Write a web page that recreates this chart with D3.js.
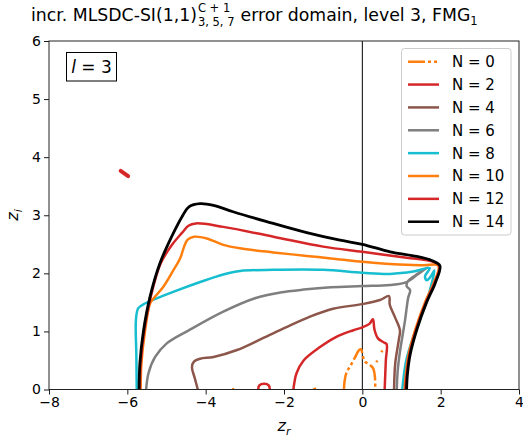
<!DOCTYPE html>
<html>
<head>
<meta charset="utf-8">
<script src="https://cdn.jsdelivr.net/npm/d3@7"></script>
<style>
  body { margin: 0; background: #fff; }
  svg { display: block; }
  text { font-family: "DejaVu Sans", sans-serif; fill: #000; white-space: pre; }
</style>
</head>
<body>
<script>
// Axis setup
const xTicks = [-8, -6, -4, -2, 0, 2, 4];
const yTicks = [0, 1, 2, 3, 4, 5, 6];

// Contour levels shown in the legend
const levels = [0, 2, 4, 6, 8, 10, 12, 14];

// Contour traces (z_r, z_i)
const curveN0 = [[-0.47,0],[-0.45,0.16],[-0.40,0.30],[-0.31,0.40],[-0.19,0.55],[-0.08,0.68],[-0.03,0.69],[0.01,0.58],[0.07,0.48],[0.2,0.42],[0.28,0.36],[0.32,0.22],[0.33,0]];
const bitsN0 = [[[0.36,0.47],[0.38,0.50]], [[0.49,0.64],[0.51,0.67]], [[-1.25,0],[-1.18,0.02]], [[-3.32,0],[-3.27,0.01]]];
const curveN2 = [[-1.76,0],[-1.68,0.28],[-1.5,0.5],[-1.08,0.73],[-0.65,0.91],[-0.23,1.02],[0,1.07],[0.18,1.13],[0.27,1.21],[0.31,1.03],[0.4,0.88],[0.55,0.81],[0.62,0.78],[0.6,0.5],[0.57,0]];
const loopN2 = [[-2.66,0],[-2.63,0.07],[-2.5,0.1],[-2.39,0.07],[-2.36,0]];
const islandN12 = [[-6.17,3.765],[-5.98,3.675]];
const curveN4 = [[-4.20,0],[-4.28,0.2],[-4.35,0.38],[-4.30,0.48],[-4.14,0.53],[-3.8,0.56],[-3.2,0.68],[-2.55,0.88],[-1.95,1.07],[-1.35,1.25],[-0.75,1.39],[0,1.47],[0.45,1.54],[0.68,1.61],[0.70,1.46],[0.83,1.25],[0.96,1.02],[0.93,0.85],[0.84,0.45],[0.81,0]];
const curveN6 = [[-5.52,0],[-5.46,0.28],[-5.29,0.56],[-5.0,0.79],[-4.4,1.03],[-3.55,1.34],[-2.70,1.58],[-2.1,1.67],[-1.5,1.72],[-0.8,1.76],[0,1.78],[0.71,1.8],[1.13,1.85],[1.39,1.97],[1.66,2.1],[1.30,1.94],[1.17,1.87],[1.13,1.78],[1.22,1.71],[1.17,1.58],[1.09,1.19],[0.96,0.65],[0.90,0.3],[0.88,0]];
const curveN8 = [[-5.76,0],[-5.77,0.6],[-5.78,1.2],[-5.72,1.4],[-5.55,1.48],[-5.42,1.52],[-4.83,1.68],[-4.14,1.85],[-3.55,1.98],[-3.12,2.04],[-2.27,2.06],[-1.0,2.06],[0,2.01],[0.71,1.99],[1.30,2.03],[1.72,2.09],[1.60,1.95],[1.64,1.88],[1.73,1.93],[1.84,2.05],[1.72,1.7],[1.52,1.3],[1.3,0.9],[1.12,0.5],[1.02,0]];
const curveN10 = [[-5.66,0],[-5.64,0.45],[-5.55,1.0],[-5.42,1.48],[-5.34,1.56],[-5.08,1.77],[-4.82,2.06],[-4.65,2.26],[-4.55,2.46],[-4.46,2.58],[-4.3,2.63],[-3.97,2.6],[-3.55,2.49],[-3.12,2.43],[-2.27,2.36],[-1.42,2.3],[-0.57,2.24],[0,2.2],[0.71,2.16],[1.56,2.14],[1.94,2.13],[1.82,1.83],[1.6,1.5],[1.36,1.05],[1.18,0.6],[1.11,0.25],[1.08,0]];
const curveN12 = [[-5.68,0],[-5.66,0.45],[-5.57,1.0],[-5.40,1.6],[-5.15,2.17],[-4.85,2.5],[-4.6,2.7],[-4.44,2.82],[-4.25,2.86],[-3.55,2.8],[-2.27,2.63],[-1.0,2.46],[0,2.37],[1.13,2.27],[1.81,2.2],[1.97,2.13],[1.84,1.83],[1.62,1.5],[1.38,1.05],[1.2,0.6],[1.13,0.25],[1.10,0]];
const curveN14 = [[-5.70,0],[-5.68,0.45],[-5.59,1.0],[-5.42,1.6],[-5.17,2.17],[-4.87,2.63],[-4.6,2.98],[-4.42,3.15],[-4.14,3.2],[-3.8,3.17],[-3.3,3.06],[-2.44,2.89],[-1.42,2.7],[-0.57,2.57],[0,2.5],[0.71,2.37],[1.39,2.29],[1.77,2.22],[1.98,2.13],[1.86,1.83],[1.64,1.5],[1.4,1.05],[1.22,0.6],[1.15,0.25],[1.13,0]];

const colors = {0: "#ff7f0e", 2: "#d62728", 4: "#8c564b", 6: "#7f7f7f", 8: "#17becf", 10: "#ff7f0e", 12: "#d62728", 14: "#000000"};
const dashN0 = "17,3,3,3,3,3";

const width = 523, height = 440;
const plot = {left: 49, right: 519, top: 41, bottom: 389.5};

const svg = d3.select("body").append("svg")
  .attr("width", width)
  .attr("height", height);

const x = d3.scaleLinear().domain([-8, 4]).range([plot.left, plot.right]);
const y = d3.scaleLinear().domain([0, 6]).range([plot.bottom, plot.top]);

svg.append("clipPath").attr("id", "clip")
  .append("rect")
  .attr("x", plot.left).attr("y", plot.top)
  .attr("width", plot.right - plot.left).attr("height", plot.bottom - plot.top);

const line = d3.line()
  .x(d => x(d[0]))
  .y(d => y(d[1]))
  .curve(d3.curveCatmullRom.alpha(0.5));

const g = svg.append("g").attr("clip-path", "url(#clip)");

// vertical line at z_r = 0
g.append("line")
  .attr("x1", x(0)).attr("x2", x(0))
  .attr("y1", plot.top).attr("y2", plot.bottom)
  .attr("stroke", "#000").attr("stroke-width", 1);

// contours, drawn low to high
const contours = [
  {n: 2, pts: curveN2}, {n: 2, pts: loopN2},
  {n: 4, pts: curveN4}, {n: 6, pts: curveN6},
  {n: 8, pts: curveN8}, {n: 10, pts: curveN10},
  {n: 12, pts: curveN12}, {n: 14, pts: curveN14}
];
g.selectAll("path.c")
  .data(contours)
  .join("path")
  .attr("class", "c")
  .attr("d", d => line(d.pts))
  .attr("fill", "none")
  .attr("stroke", d => colors[d.n])
  .attr("stroke-width", d => d.n === 14 ? 2.8 : 2.5)
  .attr("stroke-linejoin", "round");

g.append("path")
  .attr("d", line(curveN0))
  .attr("fill", "none")
  .attr("stroke", colors[0])
  .attr("stroke-width", 2.5)
  .attr("stroke-dasharray", dashN0);

g.selectAll("path.bit")
  .data(bitsN0)
  .join("path")
  .attr("class", "bit")
  .attr("d", d => d3.line().x(p => x(p[0])).y(p => y(p[1]))(d))
  .attr("fill", "none")
  .attr("stroke", colors[0])
  .attr("stroke-width", 2.5);

// small island of the N = 12 level
g.append("path")
  .attr("d", d3.line().x(p => x(p[0])).y(p => y(p[1]))(islandN12))
  .attr("stroke", colors[12])
  .attr("stroke-width", 4)
  .attr("stroke-linecap", "round");

// axes
const xAxis = svg.append("g")
  .attr("transform", `translate(0,${plot.bottom})`)
  .call(d3.axisBottom(x).tickValues(xTicks).tickSize(5).tickPadding(3));
const yAxis = svg.append("g")
  .attr("transform", `translate(${plot.left},0)`)
  .call(d3.axisLeft(y).tickValues(yTicks).tickSize(5).tickPadding(3).tickFormat(d3.format("d")));
[xAxis, yAxis].forEach(a => {
  a.selectAll("text").style("font-family", '"DejaVu Sans", sans-serif').style("font-size", "14px").attr("fill", "#000");
  a.selectAll("line").attr("stroke", "#000").attr("stroke-width", 0.9);
  a.select(".domain").remove();
});

// frame
svg.append("rect")
  .attr("x", plot.left).attr("y", plot.top)
  .attr("width", plot.right - plot.left).attr("height", plot.bottom - plot.top)
  .attr("fill", "none").attr("stroke", "#222").attr("stroke-width", 1);

// axis labels
const xl = svg.append("text").attr("x", 284).attr("y", 431).attr("text-anchor", "middle").style("font-size", "16px");
xl.append("tspan").style("font-style", "italic").text("z");
xl.append("tspan").attr("dy", 4).style("font-size", "11px").style("font-style", "italic").text("r");

const yl = svg.append("text").attr("transform", "translate(18,215) rotate(-90)").attr("text-anchor", "middle").style("font-size", "16px");
yl.append("tspan").style("font-style", "italic").text("z");
yl.append("tspan").attr("dy", 4).style("font-size", "11px").style("font-style", "italic").text("i");

// l = 3 box
svg.append("rect")
  .attr("x", 66.5).attr("y", 52.5).attr("width", 50).attr("height", 28.5)
  .attr("fill", "#fff").attr("stroke", "#000").attr("stroke-width", 1);
const lt = svg.append("text").attr("x", 91.5).attr("y", 73).attr("text-anchor", "middle").style("font-size", "17px");
lt.append("tspan").style("font-style", "italic").text("l");
lt.append("tspan").text(" = 3");

// legend
const leg = svg.append("g");
leg.append("rect")
  .attr("x", 401.5).attr("y", 48.5).attr("width", 109.5).attr("height", 186.5).attr("rx", 3)
  .attr("fill", "#fff").attr("fill-opacity", 0.8).attr("stroke", "#ccc").attr("stroke-width", 1);
const rows = leg.selectAll("g.row").data(levels).join("g")
  .attr("class", "row")
  .attr("transform", (d, i) => `translate(0,${61.7 + i * 22.86})`);
rows.append("line")
  .attr("x1", 408).attr("x2", 439)
  .attr("stroke", d => colors[d])
  .attr("stroke-width", 2.5)
  .attr("stroke-dasharray", d => d === 0 ? dashN0 : null);
rows.append("text")
  .attr("x", 452).attr("dy", "0.36em")
  .style("font-size", "15px")
  .text(d => `N = ${d}`);

// title with stacked super/subscripts
const tBase = 21, tSize = 17.3, sSize = 11.5;
const t1 = svg.append("text").attr("x", 31).attr("y", tBase).style("font-size", tSize + "px").text("incr. MLSDC-SI(1,1)");
let cx = 31 + t1.node().getComputedTextLength() + 1;
const sup = svg.append("text").attr("x", cx).attr("y", tBase - 9).style("font-size", sSize + "px").text("C + 1");
const sub = svg.append("text").attr("x", cx).attr("y", tBase + 5).style("font-size", sSize + "px").text("3, 5, 7");
cx += Math.max(sup.node().getComputedTextLength(), sub.node().getComputedTextLength()) + 6;
const t2 = svg.append("text").attr("x", cx).attr("y", tBase).style("font-size", tSize + "px").text("error domain, level 3, FMG");
cx += t2.node().getComputedTextLength();
svg.append("text").attr("x", cx).attr("y", tBase + 4).style("font-size", sSize + "px").text("1");
</script>
</body>
</html>
